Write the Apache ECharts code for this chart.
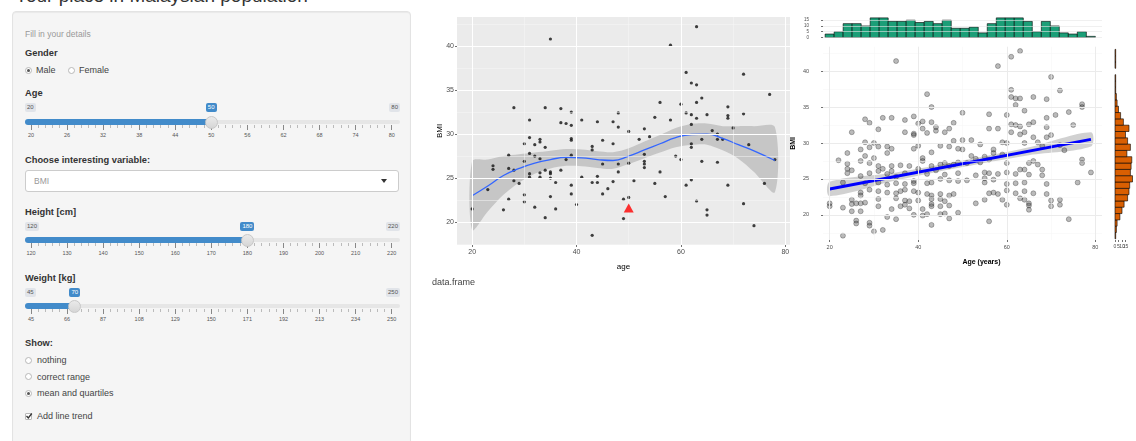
<!DOCTYPE html>
<html><head><meta charset="utf-8">
<script src="https://cdn.jsdelivr.net/npm/echarts@6/dist/echarts.min.js"></script>
<style>
html,body{margin:0;padding:0;width:1136px;height:441px;overflow:hidden;background:#fff;font-family:"Liberation Sans",Arial,sans-serif;color:#333;}
.abs{position:absolute;white-space:nowrap;}
#title{left:15px;top:-14px;font-size:19px;line-height:19px;color:#333;}
#well{left:12px;top:11px;width:399px;height:450px;background:#f5f5f5;border:1px solid #e3e3e3;border-radius:4px;box-sizing:border-box;box-shadow:inset 0 1px 1px rgba(0,0,0,.05);}
#chart{position:absolute;left:420px;top:0;width:716px;height:441px;}
svg{display:block;}
</style></head>
<body>
<div id="title" class="abs">Your place in Malaysian population</div>
<div id="well" class="abs"></div>
<div id="chart"></div>
<script>
// ---------------- data ----------------
const ageTicks = ['20','26','32','38','44','50','56','62','68','74','80'];
const heightTicks = ['120','130','140','150','160','170','180','190','200','210','220'];
const weightTicks = ['45','66','87','108','129','150','171','192','213','234','250'];
const userAge = 50, userBmi = 21.6;

const scatterMid = [[20,21.5],[23,23.7],[24,26.4],[24,26.0],[26,21.4],[27,27.6],[27,22.6],[27,26.1],[28,33.0],[28,24.7],[28,25.9],[29,24.4],[30,28.9],[30,26.9],[30,23.1],[30,22.3],[31,31.6],[31,29.6],[31,27.8],[31,25.5],[31,25.1],[32,28.8],[32,27.5],[32,21.7],[33,29.4],[33,29.1],[33,27.2],[33,25.6],[33,25.1],[34,33.0],[34,28.5],[34,25.9],[34,20.5],[35,40.8],[35,25.7],[35,25.5],[35,25.0],[35,22.9],[36,24.5],[36,21.5],[37,32.9],[37,31.3],[37,25.9],[38,31.2],[38,27.1],[39,32.5],[39,31.0],[39,29.5],[39,29.3],[39,27.6],[39,24.2],[39,23.2],[40,22.0],[41,31.6],[41,25.1],[43,28.6],[43,28.2],[43,18.5],[43,24.5],[44,31.4],[44,25.2],[44,24.5],[45,29.3],[45,26.6],[45,23.2],[46,23.8],[47,24.6],[47,31.4],[47,28.9],[48,32.4],[48,30.8],[48,25.7],[48,26.6],[49,22.6],[49,20.4],[50,30.3],[50,22.8],[50,26.7],[51,24.7],[52,29.4],[53,30.6],[53,27.7],[53,26.9],[53,26.6],[53,26.2],[54,29.7],[55,31.9],[55,24.4],[56,33.6],[56,25.7],[57,22.9],[58,40.1],[58,31.6],[59,27.5],[60,33.4],[60,27.1],[61,37.0],[61,32.4],[61,24.2],[62,35.8],[62,32.2],[62,31.1],[62,28.5],[62,28.9],[62,24.8],[63,42.2],[63,35.6],[63,33.6],[63,31.8],[63,22.4],[64,34.1],[64,29.4],[64,26.9],[65,32.2],[65,21.4],[65,20.8],[66,30.4],[67,30.0],[67,29.4],[67,26.8],[68,29.4],[69,33.1],[69,32.1],[69,31.8],[69,24.2],[70,30.7],[72,36.8],[72,32.3],[72,22.1],[73,28.8],[74,19.6],[76,24.4],[77,34.5],[78,27.1]];

const loessAge = [20,23,26,29,32,35,38,41,44,47,50,53,56,59,62,65,68,71,74,78];
const loessFit = [23.0,24.1,25.3,26.1,26.7,27.1,27.35,27.3,27.1,27.0,27.5,28.2,28.9,29.6,29.95,30.0,29.5,28.8,28.1,27.0];
const loessLo = [19.1,21.2,23.1,24.5,25.5,26.1,26.4,26.35,26.15,26.05,26.6,27.25,27.9,28.5,28.75,28.8,28.15,27.2,25.7,23.4];
const loessHi = [26.9,27.1,27.5,27.7,27.9,28.1,28.3,28.25,28.05,27.95,28.4,29.15,29.9,30.7,31.15,31.2,30.9,30.9,30.9,30.8];

const scatterRight = [[35,41.4],[61,42.0],[63,42.8],[58,40.7],[70,39.2],[61,37.4],[72,37.3],[42,36.8],[61,36.4],[62,36.2],[63,36.2],[66,36.4],[69,36.1],[43,35.0],[62,35.3],[77,35.4],[77,35.0],[64,34.5],[74,34.3],[50,34.2],[56,34.0],[60,33.9],[69,33.5],[71,33.9],[28,33.3],[32,33.5],[34,33.5],[37,33.2],[29,32.8],[39,33.7],[41,33.0],[40,32.7],[43,32.9],
[31,31.9],[41,32.0],[44,32.2],[47,32.0],[48,32.8],[56,32.0],[58,32.0],[61,32.6],[62,32.5],[63,32.3],[65,32.6],[66,32.9],[69,32.2],[75,32.5],
[25,31.5],[37,31.5],[39,31.3],[42,31.4],[44,31.7],[46,31.5],[61,31.5],[63,31.2],[64,31.5],[66,30.8],[69,30.8],[70,31.1],
[30,30.0],[31,29.5],[28,30.1],[29,29.4],[33,29.5],[34,29.2],[39,31.1],[40,29.6],[43,28.7],[45,29.6],[48,30.3],[50,30.4],[52,30.4],[54,29.8],[57,29.1],[59,30.1],[60,30.0],[64,30.0],[67,30.1],[68,29.6],[72,29.7],
[24,28.6],[27,29.1],[28,28.2],[30,27.9],[33,28.6],[39,29.2],[41,27.9],[47,29.5],[49,29.2],[50,29.1],[52,28.2],[53,27.8],[55,28.1],[57,28.6],[59,28.4],[60,27.2],[65,27.2],[66,27.5],[67,27.0],[73,29.0],
[22,27.6],[24,27.1],[27,27.5],[29,27.2],[31,26.8],[32,26.4],[34,26.8],[36,26.9],[38,26.8],[41,27.5],[43,26.8],[45,27.0],[46,27.2],[47,26.8],[48,27.0],[49,27.3],[51,27.2],[54,27.3],[56,27.7],[63,26.3],[68,26.3],[77,27.7],[77,27.2],
[24,26.4],[24,25.8],[25,26.2],[27,25.4],[29,25.8],[31,26.1],[33,25.7],[34,26.1],[35,25.3],[37,25.8],[39,24.7],[40,26.4],[42,25.7],[44,26.2],[46,25.6],[49,25.8],[51,24.8],[53,25.5],[55,25.9],[56,25.8],[58,25.7],[60,25.9],[62,25.7],[64,26.3],[65,25.6],[68,25.5],[76,24.5],[79,25.9],
[23,24.5],[28,24.4],[31,24.5],[33,24.2],[35,24.4],[37,24.3],[39,24.4],[42,24.4],[43,24.5],[45,25.0],[47,24.8],[49,24.7],[55,25.1],[55,24.5],[57,24.9],[60,24.3],[62,24.4],[64,24.5],[69,24.3],
[27,23.1],[27,22.7],[29,23.5],[31,23.3],[33,23.1],[35,23.0],[36,23.3],[37,23.5],[39,23.3],[40,23.1],[42,22.9],[43,22.7],[45,22.9],[47,22.7],[48,22.9],[56,23.0],[57,23.1],[58,22.9],[60,23.4],[62,23.0],[64,23.3],[66,23.0],[69,22.9],
[25,22.1],[28,21.7],[31,22.2],[35,22.3],[37,22.0],[38,21.9],[40,22.0],[43,22.2],[45,22.2],[46,21.9],[55,22.1],[59,22.1],[63,22.3],[64,22.1],[65,21.6],[70,22.0],[72,22.1],
[20,21.6],[20,21.2],[23,21.0],[25,21.5],[26,21.6],[27,21.6],[31,21.2],[34,20.8],[36,21.2],[37,21.4],[38,20.9],[41,20.8],[43,21.5],[43,21.2],[45,21.2],[47,21.3],[53,21.6],[60,21.4],[65,21.3],[70,21.2],[72,21.4],
[25,20.5],[27,20.5],[33,19.7],[35,19.4],[39,20.0],[41,19.9],[42,20.1],[45,20.1],[46,20.2],[47,19.5],[49,20.3],[65,20.7],[74,19.4],
[26,19.2],[26,18.8],[29,18.9],[29,18.5],[30,17.7],[32,17.9],[43,18.6],[56,19.1],[23,17.1]];

const lmAge = [20,79];
const lmFit = [23.6,30.5];
const lmBandAge = [20,35,50,65,79];
const lmBandLo = [22.6,24.8,26.65,28.3,29.5];
const lmBandHi = [24.6,25.9,27.55,29.4,31.5];

const ageBinEdges = [18.98,21.02,23.05,25.08,27.12,29.15,31.19,33.22,35.25,37.29,39.32,41.36,43.39,45.42,47.46,49.49,51.53,53.56,55.59,57.63,59.66,61.69,63.73,65.76,67.80,69.83,71.86,73.90,75.93,77.97,80.00];
const ageCounts = [3,5,12,12,10,17,17,14,14,15,13,14,12,15,8,8,9,4,12,17,17,17,14,5,14,10,4,3,5,1];
const bmiBinEdges = [16.66,17.54,18.42,19.30,20.18,21.06,21.93,22.81,23.69,24.57,25.45,26.33,27.21,28.09,28.97,29.85,30.72,31.60,32.48,33.36,34.24,35.12,36.00,36.88,37.76,38.64,39.51,40.39,41.27,42.15,43.03];
const bmiCounts = [1,2,3,7,10,13,18,20,21,25,22,23,24,17,22,18,15,20,12,8,5,3,2,1,1,1,0,1,1,1];

const midXMajor = [20,40,60,80], midXMinor = [30,50,70];
const midYMajor = [20,25,30,35,40], midYMinor = [17.5,22.5,27.5,32.5,37.5,42.5];
const rightXMajor = [20,40,60,80], rightXMinor = [30,50,70];
const rightYMajor = [20,25,30,35,40], rightYMinor = [17.5,22.5,27.5,32.5,37.5,42.5];
const topHistYTicks = [0,5,10,15];
const sideHistXTicks = [0,5,10,15,20];

// ---------------- sidebar (HTML widgets) ----------------
const well = document.body;
function el(css, html) {
  const d = document.createElement('div');
  d.className = 'abs';
  d.style.cssText = css;
  if (html !== undefined) d.innerHTML = html;
  well.appendChild(d);
  return d;
}
function text(t, x, cy, extra) {
  el('left:' + x + 'px;top:' + (cy - 6) + 'px;line-height:12px;font-size:9px;color:#444;' + (extra || ''), t);
}
function bold(t, x, cy) { text(t, x, cy, 'font-weight:bold;font-size:9.3px;color:#333;'); }
function radio(cx, cy, checked) {
  el('left:' + (cx - 3.5) + 'px;top:' + (cy - 3.5) + 'px;width:7px;height:7px;border:1px solid #b8b8b8;border-radius:50%;background:#fff;box-sizing:border-box;');
  if (checked) el('left:' + (cx - 1.5) + 'px;top:' + (cy - 1.5) + 'px;width:3px;height:3px;border-radius:50%;background:#555;');
}
function checkbox(cx, cy) {
  el('left:' + (cx - 3.5) + 'px;top:' + (cy - 3.5) + 'px;width:7px;height:7px;border:1px solid #b8b8b8;border-radius:1px;background:#fff;box-sizing:border-box;');
  el('left:' + (cx - 3.5) + 'px;top:' + (cy - 4) + 'px;width:8px;height:8px;line-height:0;', '<svg width="8" height="8"><path d="M1.5 4 L3.3 6 L6.8 1.5" stroke="#333" stroke-width="1.3" fill="none"/></svg>');
}
function slider(trackY, labelY, gridY, min, max, value, labels) {
  const x0 = 31, span = 360.7;
  const vx = x0 + (value - min) / (max - min) * span;
  el('left:25px;top:' + (trackY - 2) + 'px;width:375px;height:4px;background:#e6e6e6;border-radius:2px;');
  el('left:25px;top:' + (trackY - 3) + 'px;width:' + (vx - 25) + 'px;height:6px;background:#428bca;border-radius:3px 0 0 3px;');
  const step = span / (labels.length - 1);
  labels.forEach((lab, i) => {
    const gx = x0 + i * step;
    el('left:' + (gx - 0.5) + 'px;top:' + (trackY + 3) + 'px;width:1px;height:5px;background:#888;');
    el('left:' + (gx - 15) + 'px;top:' + (gridY - 4) + 'px;width:30px;text-align:center;font-size:5.5px;line-height:8px;color:#555;', lab);
    if (i < labels.length - 1) {
      for (let j = 1; j < 5; j++) {
        el('left:' + (gx + j * step / 5 - 0.5) + 'px;top:' + (trackY + 3) + 'px;width:1px;height:3px;background:#bbb;');
      }
    }
  });
  el('left:' + (vx - 6.5) + 'px;top:' + (trackY - 6.5) + 'px;width:13px;height:13px;border-radius:50%;background:linear-gradient(#eaeaea,#d6d6d6);border:1px solid #c8c8c8;box-sizing:border-box;');
  const boxCss = 'font-size:6px;line-height:9px;padding:0 2px;border-radius:2px;top:' + (labelY - 4.5) + 'px;';
  el(boxCss + 'left:25px;background:#e1e4e9;color:#555;', String(min));
  const mx = el(boxCss + 'background:#e1e4e9;color:#555;', String(max));
  mx.style.right = (1136 - 400) + 'px';
  const vb = el(boxCss + 'background:#428bca;color:#fff;', String(value));
  vb.style.left = (vx - vb.offsetWidth / 2) + 'px';
}

text('Fill in your details', 25, 34, 'font-size:8.5px;color:#999;');
bold('Gender', 25, 53);
radio(28, 70, true); text('Male', 36, 70);
radio(71, 70, false); text('Female', 79, 70);
bold('Age', 25, 93);
slider(122, 107.5, 135, 20, 80, 50, ageTicks);
bold('Choose interesting variable:', 25, 160);
el('left:25px;top:170px;width:374px;height:22px;background:#fff;border:1px solid #ccc;border-radius:3px;box-sizing:border-box;');
text('BMI', 34, 181, 'font-size:8.5px;color:#999;');
el('left:381px;top:179px;width:0;height:0;border-left:3px solid transparent;border-right:3px solid transparent;border-top:4px solid #333;');
bold('Height [cm]', 25, 212);
slider(240, 226, 253, 120, 220, 180, heightTicks);
bold('Weight [kg]', 25, 278);
slider(306, 292, 319, 45, 250, 70, weightTicks);
bold('Show:', 25, 343);
radio(28, 360, false); text('nothing', 37, 360);
radio(28, 376.5, false); text('correct range', 37, 376.5);
radio(28, 393, true); text('mean and quartiles', 37, 393);
checkbox(28, 416); text('Add line trend', 37, 416);
text('data.frame', 432, 282, 'font-size:9px;color:#444;');

// ---------------- charts ----------------
const FONT = 'Liberation Sans';
function gridLineData(xMaj, xMin, yMaj, yMin, majC, minC, majW, minW) {
  const d = [];
  xMin.forEach(v => d.push({xAxis: v, lineStyle: {color: minC, width: minW, type: 'solid'}}));
  yMin.forEach(v => d.push({yAxis: v, lineStyle: {color: minC, width: minW, type: 'solid'}}));
  xMaj.forEach(v => d.push({xAxis: v, lineStyle: {color: majC, width: majW, type: 'solid'}}));
  yMaj.forEach(v => d.push({yAxis: v, lineStyle: {color: majC, width: majW, type: 'solid'}}));
  return d;
}
function gridSeries(ax, d) {
  return {type: 'scatter', xAxisIndex: ax, yAxisIndex: ax, data: [], z: 1, silent: true,
    markLine: {silent: true, symbol: ['none', 'none'], label: {show: false}, animation: false, emphasis: {disabled: true}, data: d}};
}
function bandSeries(ax, xs, lo, hi, fill) {
  return {type: 'custom', xAxisIndex: ax, yAxisIndex: ax, z: 2, silent: true, data: [[xs[0], lo[0]]],
    renderItem: function (params, api) {
      const pts = [];
      for (let i = 0; i < xs.length; i++) pts.push(api.coord([xs[i], hi[i]]));
      for (let i = xs.length - 1; i >= 0; i--) pts.push(api.coord([xs[i], lo[i]]));
      return {type: 'polygon', shape: {points: pts, smooth: 0.3}, style: {fill: fill}};
    }};
}
function tickAxis(gi, min, max, vals, o) {
  o = o || {};
  return Object.assign({
    gridIndex: gi, type: 'value', min: min, max: max,
    axisLine: {show: false},
    axisTick: {show: o.tick !== false, length: 2, lineStyle: {color: '#333', width: 0.7}, customValues: vals},
    axisLabel: {show: o.label !== false, customValues: vals, fontSize: o.fs || 7, color: '#4D4D4D', margin: o.margin || 4, fontFamily: FONT},
    splitLine: {show: false},
    nameMoveOverlap: false
  }, o.extra || {});
}

const chart = echarts.init(document.getElementById('chart'), null, {renderer: 'canvas'});
chart.setOption({
  animation: false,
  grid: [
    {left: 37, top: 17, width: 333, height: 228, show: true, backgroundColor: '#EBEBEB', borderWidth: 0},
    {left: 403, top: 46.7, width: 279, height: 193.3},
    {left: 403, top: 15, width: 279, height: 22.5},
    {left: 695, top: 46.7, width: 30, height: 193.3}
  ],
  xAxis: [
    tickAxis(0, 17.1, 80.9, midXMajor, {margin: 4, extra: {name: 'age', nameLocation: 'middle', nameGap: 18,
      nameTextStyle: {fontSize: 8, color: '#000', fontFamily: FONT}}}),
    tickAxis(1, 18.5, 81.5, rightXMajor, {fs: 5.5, margin: 4, extra: {name: 'Age (years)', nameLocation: 'middle', nameGap: 19,
      nameTextStyle: {fontSize: 7, color: '#000', fontWeight: 'bold', fontFamily: FONT, padding: [0, 0, 0, 38]}}}),
    tickAxis(2, 18.5, 81.5, [], {tick: false, label: false}),
    tickAxis(3, 0, 30, sideHistXTicks, {fs: 5, margin: 4})
  ],
  yAxis: [
    tickAxis(0, 17.4, 43.3, midYMajor, {margin: 3, extra: {name: 'BMI', nameLocation: 'middle', nameGap: 13.5, nameRotate: 90,
      nameTextStyle: {fontSize: 8, color: '#000', fontFamily: FONT}}}),
    tickAxis(1, 16.5, 43.4, rightYMajor, {fs: 5.5, margin: 14, extra: {name: 'BMI', nameLocation: 'middle', nameGap: 26, nameRotate: 90,
      nameTextStyle: {fontSize: 7, color: '#000', fontWeight: 'bold', fontFamily: FONT}}}),
    tickAxis(2, 0, 19.5, topHistYTicks, {fs: 4.5, margin: 14}),
    tickAxis(3, 16.5, 43.4, [], {tick: false, label: false})
  ],
  series: [
    gridSeries(0, gridLineData(midXMajor, midXMinor, midYMajor, midYMinor, '#FFFFFF', '#F7F7F7', 1, 0.5)),
    bandSeries(0, loessAge, loessLo, loessHi, 'rgba(153,153,153,0.45)'),
    {type: 'scatter', xAxisIndex: 0, yAxisIndex: 0, z: 3, symbolSize: 3.2, data: scatterMid,
      itemStyle: {color: '#111'}, silent: true},
    {type: 'line', xAxisIndex: 0, yAxisIndex: 0, z: 4, smooth: true, showSymbol: false, symbol: 'none',
      data: loessAge.map((a, i) => [a, loessFit[i]]), lineStyle: {color: '#3366FF', width: 1.3}, silent: true},
    {type: 'scatter', xAxisIndex: 0, yAxisIndex: 0, z: 5, symbol: 'triangle', symbolSize: [10, 9],
      data: [[userAge, userBmi]], itemStyle: {color: '#FF0000'}, silent: true},

    gridSeries(1, gridLineData(rightXMajor, rightXMinor, rightYMajor, rightYMinor, '#EBEBEB', '#F4F4F4', 1, 0.5)),
    bandSeries(1, lmBandAge, lmBandLo, lmBandHi, 'rgba(153,153,153,0.45)'),
    {type: 'scatter', xAxisIndex: 1, yAxisIndex: 1, z: 3, symbolSize: 5, data: scatterRight,
      itemStyle: {color: 'rgba(40,40,40,0.4)', borderColor: 'rgba(0,0,0,0.55)', borderWidth: 0.6}, silent: true},
    {type: 'line', xAxisIndex: 1, yAxisIndex: 1, z: 4, showSymbol: false, symbol: 'none',
      data: lmAge.map((a, i) => [a, lmFit[i]]), lineStyle: {color: '#0000FF', width: 3}, silent: true},

    gridSeries(2, gridLineData([], [], topHistYTicks, [], '#E6E6E6', '#F0F0F0', 0.6, 0.4)),
    {type: 'custom', xAxisIndex: 2, yAxisIndex: 2, z: 3, silent: true,
      data: ageCounts.map((c, i) => [ageBinEdges[i], ageBinEdges[i + 1], c]),
      encode: {x: [0, 1], y: 2},
      renderItem: function (params, api) {
        const c = api.value(2);
        if (!c) return null;
        const p0 = api.coord([api.value(0), 0]), p1 = api.coord([api.value(1), c]);
        return {type: 'rect', shape: {x: p0[0], y: p1[1], width: p1[0] - p0[0], height: p0[1] - p1[1]},
          style: {fill: '#1B9E77', stroke: '#000', lineWidth: 0.6}};
      }},
    {type: 'custom', xAxisIndex: 3, yAxisIndex: 3, z: 3, silent: true,
      data: bmiCounts.map((c, i) => [bmiBinEdges[i], bmiBinEdges[i + 1], c]),
      encode: {y: [0, 1], x: 2},
      renderItem: function (params, api) {
        const c = api.value(2);
        if (!c) return null;
        const p0 = api.coord([0, api.value(0)]), p1 = api.coord([c, api.value(1)]);
        return {type: 'rect', shape: {x: p0[0], y: p1[1], width: p1[0] - p0[0], height: p0[1] - p1[1]},
          style: {fill: '#D95F02', stroke: '#000', lineWidth: 0.6}};
      }}
  ]
});
</script>
</body></html>
